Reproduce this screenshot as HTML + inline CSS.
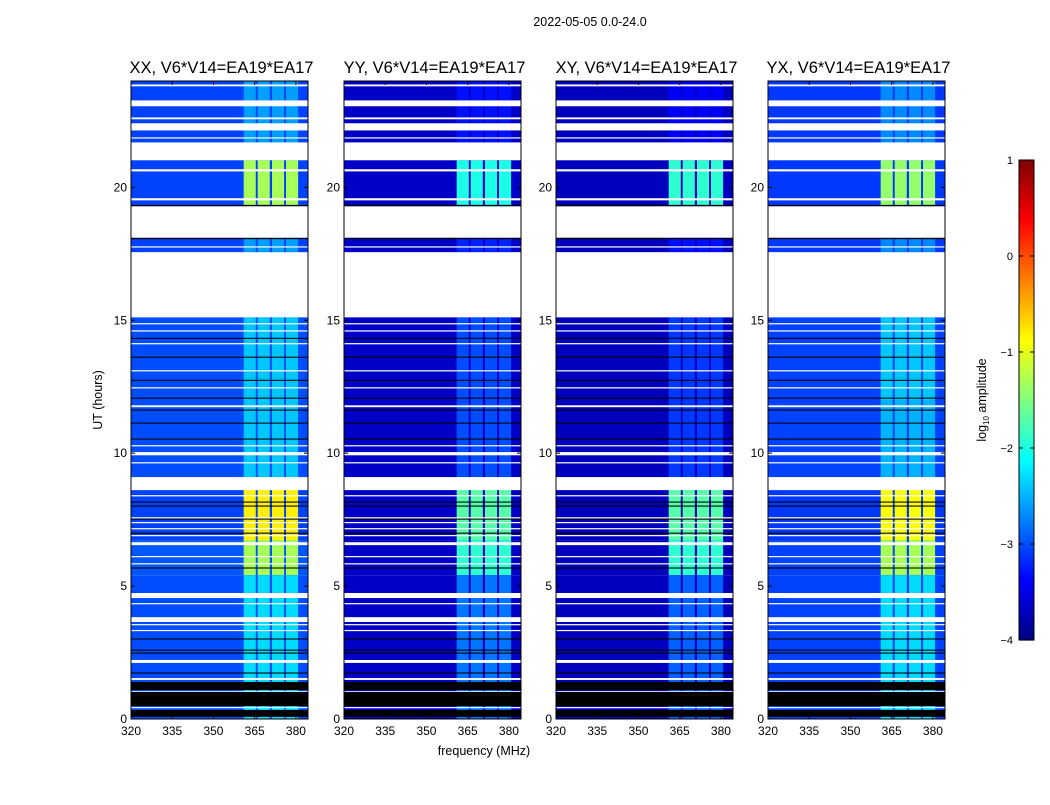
<!DOCTYPE html>
<html><head><meta charset="utf-8">
<style>
html,body{margin:0;padding:0;background:#fff;}
svg text{font-family:"Liberation Sans",sans-serif;fill:#000;}
</style></head>
<body>
<svg id="chart" width="1050" height="800" viewBox="0 0 1050 800" xmlns="http://www.w3.org/2000/svg">
<rect width="1050" height="800" fill="#fff"/>
<text x="590" y="26" font-size="12.5" text-anchor="middle">2022-05-05 0.0-24.0</text>
<text x="484" y="755" font-size="12.5" text-anchor="middle">frequency (MHz)</text>
<text transform="translate(102,400) rotate(-90)" font-size="12.5" text-anchor="middle">UT (hours)</text>
<g id="panels"></g>
<g id="cbar"></g>
</svg>
<script>
// ---- data ----
const panelNames = ["XX, V6*V14=EA19*EA17","YY, V6*V14=EA19*EA17","XY, V6*V14=EA19*EA17","YX, V6*V14=EA19*EA17"];
const segStart = [21.02,19.29,17.56,15.11,12.0,9.10,6.73,5.41,1.47,0];
const segEnd   = [24,21.02,19.29,17.56,15.11,12.0,9.10,6.73,5.41,1.47];
const bgXX  = [-3.05,-3.05,-3.05,-3.05,-3.0,-3.0,-3.05,-2.95,-3.0,-3.0];
const bgYY  = [-3.65,-3.65,-3.65,-3.65,-3.65,-3.65,-3.65,-3.65,-3.65,-3.65];
const bgXY  = [-3.7,-3.7,-3.7,-3.7,-3.7,-3.7,-3.7,-3.7,-3.7,-3.7];
const bgYX  = [-3.1,-3.1,-3.1,-3.1,-3.05,-3.05,-3.1,-3.05,-3.05,-3.05];
const rfiXX = [-2.6,-1.3,-2.6,-2.6,-2.4,-2.4,-0.8,-1.3,-2.3,-2.3];
const rfiYY = [-3.3,-2.0,-3.2,-3.2,-3.0,-3.0,-1.7,-1.9,-2.8,-2.8];
const rfiXY = [-3.4,-1.9,-3.3,-3.3,-3.1,-3.1,-1.7,-1.9,-2.9,-2.9];
const rfiYX = [-2.7,-1.4,-2.7,-2.7,-2.4,-2.5,-0.9,-1.3,-2.3,-2.3];
const rfiBandStart = [361.0,366.1,371.3,376.4];
const rfiBandWidth = [4.4,4.4,4.4,4.4];
const flagLo = [23.80,23.05,22.56,22.14,21.84,21.02,20.60,19.51,18.10,17.74,15.11,14.85,14.59,14.10,13.08,12.44,11.73,10.26,9.92,9.62,8.61,8.38,7.56,7.37,7.14,6.88,6.54,6.09,5.83,4.55,4.32,3.65,3.53,3.31,2.11,1.47,1.02,0.41];
const flagHi = [23.87,23.27,22.63,22.41,21.88,21.69,20.68,19.59,19.29,17.78,17.56,14.89,14.62,14.14,13.12,12.48,11.80,10.30,10.04,9.66,9.10,8.42,7.59,7.41,7.18,6.92,6.65,6.13,5.86,4.74,4.36,3.83,3.57,3.35,2.22,1.54,1.05,0.45];
const blackLo = [19.29,18.05,14.30,13.59,12.72,12.05,11.60,11.11,10.51,8.14,7.99,7.50,6.97,5.66,2.99,2.57,2.46,1.71,1.09,0.49,0.08];
const blackHi = [19.34,18.10,14.34,13.63,12.76,12.09,11.64,11.15,10.55,8.18,8.03,7.54,7.01,5.70,3.03,2.61,2.50,1.75,1.39,1.02,0.34];
const xTicks = [320,335,350,365,380];
const yTicks = [0,5,10,15,20];
const cbTicks = [1,0,-1,-2,-3,-4];
const cbLabels = ["1","0","\u22121","\u22122","\u22123","\u22124"];

// ---- layout ----
const NS="http://www.w3.org/2000/svg";
const panelLeft=[131,344,556,768], PW=177, PT=81, PB=719;
const F0=320, F1=384.4, T0=0, T1=24;
const bgs=[bgXX,bgYY,bgXY,bgYX], rfis=[rfiXX,rfiYY,rfiXY,rfiYX];
function jet(v){
  let t=Math.max(0,Math.min(1,(v+4)/5));
  const c=x=>Math.round(255*Math.max(0,Math.min(1,x)));
  return `rgb(${c(1.5-Math.abs(4*t-3))},${c(1.5-Math.abs(4*t-2))},${c(1.5-Math.abs(4*t-1))})`;
}
function mk(tag,attrs,parent){const e=document.createElementNS(NS,tag);for(const k in attrs)e.setAttribute(k,attrs[k]);parent.appendChild(e);return e;}
const root=document.getElementById('panels');
panelNames.forEach((name,p)=>{
  const L=panelLeft[p];
  const xs=f=>L+(f-F0)/(F1-F0)*PW;
  const ys=t=>PB-(t-T0)/(T1-T0)*(PB-PT);
  const g=mk('g',{},root);
  
  
  for(let s=0;s<segStart.length;s++){
    const y0=ys(segEnd[s]), y1=ys(segStart[s]);
    const r=mk('rect',{x:xs(F0),y:y0,width:xs(F1)-xs(F0),height:y1-y0,fill:jet(bgs[p][s])},g);
    
    
    for(let b=0;b<rfiBandStart.length;b++){
      const c=mk('rect',{x:xs(rfiBandStart[b]),y:y0,width:xs(rfiBandStart[b]+rfiBandWidth[b])-xs(rfiBandStart[b]),height:y1-y0,fill:jet(rfis[p][s])},g);
      
      
    }
  }
  for(let i=0;i<flagLo.length;i++){
    const y0=ys(flagHi[i]), h=Math.max(1.2,ys(flagLo[i])-y0);
    const r=mk('rect',{x:L,y:y0,width:PW,height:h,fill:'#fff'},g);
    
    
  }
  for(let i=0;i<blackLo.length;i++){
    const y0=ys(blackHi[i]), h=Math.max(1,ys(blackLo[i])-y0);
    const r=mk('rect',{x:L,y:y0,width:PW,height:h,fill:'#000'},g);
    
    
  }
  const fr=mk('rect',{x:L,y:PT,width:PW,height:PB-PT,fill:'none',stroke:'#000','stroke-width':1},g);
  
  
  xTicks.forEach(v=>{
    const x=xs(v);
    mk('line',{x1:x,x2:x,y1:PB,y2:PB-4,stroke:'#000'},g);
    mk('line',{x1:x,x2:x,y1:PT,y2:PT+4,stroke:'#000'},g);
    const t=mk('text',{x:x,y:PB+16,'font-size':12,'text-anchor':'middle'},g);
    t.textContent=v;
    
    
  });
  yTicks.forEach(v=>{
    const y=ys(v);
    mk('line',{x1:L,x2:L+4,y1:y,y2:y,stroke:'#000'},g);
    mk('line',{x1:L+PW,x2:L+PW-4,y1:y,y2:y,stroke:'#000'},g);
    const t=mk('text',{x:L-4,y:y+4,'font-size':12,'text-anchor':'end'},g);
    t.textContent=v;
    
    
  });
  const tt=mk('text',{x:L+PW/2+2,y:73,'font-size':16.5,'text-anchor':'middle'},g);
  tt.textContent=name;
  
  
});
// colorbar
const cb=document.getElementById('cbar');


const CX=1019,CW=15,CT=160,CB=640;
const cys=v=>CB-(v+4)/5*(CB-CT);
for(let i=0;i<120;i++){
  const v0=-4+5*i/120, v1=-4+5*(i+1)/120;
  mk('rect',{x:CX,y:cys(v1),width:CW,height:cys(v0)-cys(v1)+0.6,fill:jet((v0+v1)/2)},cb);
}
mk('rect',{x:CX,y:CT,width:CW,height:CB-CT,fill:'none',stroke:'#000'},cb);
cbTicks.forEach((v,i)=>{
  const y=cys(v);
  mk('line',{x1:CX,x2:CX+4,y1:y,y2:y,stroke:'#000'},cb);
  mk('line',{x1:CX+CW,x2:CX+CW-4,y1:y,y2:y,stroke:'#000'},cb);
  const t=mk('text',{x:1013,y:y+4,'font-size':11,'text-anchor':'end'},cb);
  t.textContent=cbLabels[i];
  
  
});
const cl=mk('text',{transform:'translate(986,400) rotate(-90)','font-size':12.5,'text-anchor':'middle'},cb);
cl.innerHTML='log<tspan font-size="8" dy="3">10</tspan><tspan dy="-3"> amplitude</tspan>';


</script>
</body></html>
